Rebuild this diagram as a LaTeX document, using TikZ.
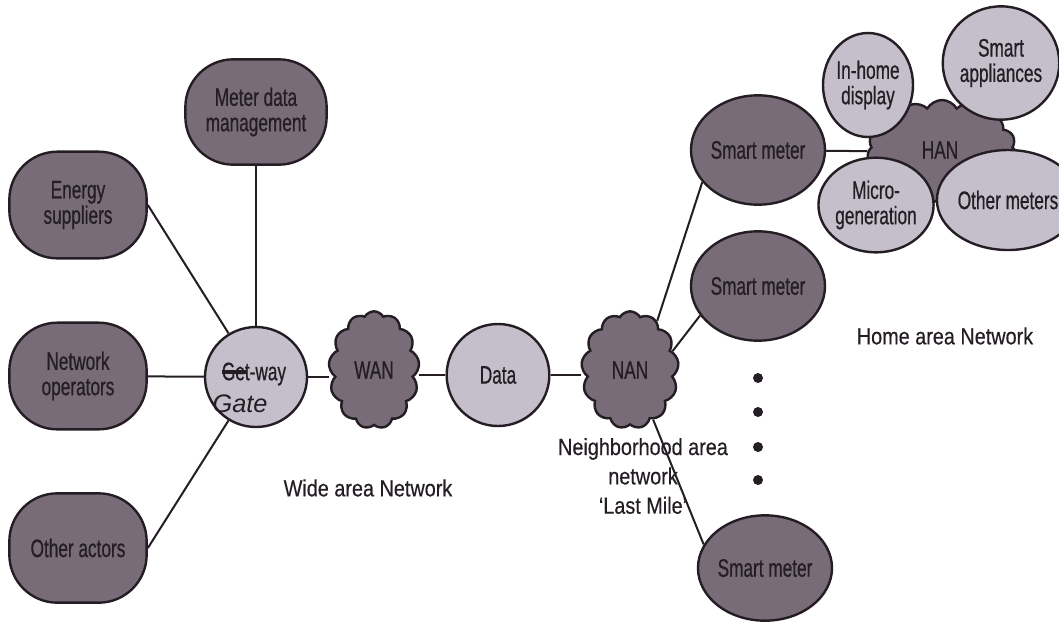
\documentclass[tikz,border=0pt]{standalone}
\usepackage{fontspec}
\setmainfont{Liberation Sans}
\newfontfamily\nodefont[FakeStretch=0.68,FakeBold=0.6]{Liberation Sans}
\newfontfamily\labfont[FakeStretch=0.85,FakeBold=0.4]{Liberation Sans}
\usetikzlibrary{shapes.symbols,shapes.geometric}
\definecolor{darkfill}{RGB}{120,108,120}
\definecolor{lightfill}{RGB}{196,191,203}
\definecolor{ink}{RGB}{36,30,36}
\begin{document}
\begin{tikzpicture}[x=0.75pt,y=-0.75pt,
  base/.style={draw=ink,line width=1.8pt,text=ink,font=\nodefont\fontsize{19}{19}\selectfont,align=center,inner sep=0pt},
  actor/.style={base,fill=darkfill,rectangle,rounded corners=36pt,minimum width=103pt,minimum height=80pt},
  dcirc/.style={base,fill=darkfill,ellipse,minimum width=85pt,minimum height=82pt},
  lcirc/.style={base,fill=lightfill,ellipse},
  cloudnode/.style={base,fill=darkfill,cloud,cloud puffs=13,cloud puff arc=120,cloud ignores aspect},
  link/.style={draw=ink,line width=1.5pt},
  dotst/.style={circle,fill=ink,minimum size=7.5pt,inner sep=0pt},
  lab/.style={text=ink,font=\labfont\fontsize{17.5}{22}\selectfont,align=center}]
\useasboundingbox (0,0) rectangle (1059,626);
\fill[white] (0,0) rectangle (1059,626);

% left actors
\node[actor,minimum width=106pt,minimum height=79pt] (mdm) at (256,112) {Meter data\\management};
\node[actor] (es) at (78,205) {Energy\\suppliers};
\node[actor] (no) at (78,376) {Network\\operators};
\node[actor,minimum height=82pt] (oa) at (78,548) {Other actors};

% chain
\node[lcirc,minimum width=76.5pt,minimum height=75pt] (gw) at (256,377) {};
\node[text=ink,font=\nodefont\fontsize{19}{19}\selectfont] (gwtxt) at (254,374) {Get-way};
\node[cloudnode,minimum width=68pt,minimum height=88pt] (wan) at (374,370) {WAN};
\node[lcirc,minimum width=77pt,minimum height=76.5pt] (data) at (498,375) {Data};
\node[cloudnode,minimum width=73pt,minimum height=88pt] (nan) at (630,370) {NAN};

% smart meters
\node[dcirc] (sm1) at (758,150) {Smart meter};
\node[dcirc] (sm2) at (758,286) {Smart meter};
\node[dcirc,minimum height=79pt] (sm3) at (765,568) {Smart meter};

% HAN
\node[cloudnode,minimum width=112pt,minimum height=78pt,cloud puffs=15] (han) at (942,152) {};
\draw[link] (sm1) -- (han);
\node[lcirc,minimum width=67.5pt,minimum height=78pt] (ihd) at (868,85) {In-home\\display};
\node[lcirc,minimum width=70pt,minimum height=85pt] (sa) at (1001,63) {Smart\\appliances};
\node[lcirc,minimum width=70pt,minimum height=71pt] (mg) at (876,205) {Micro-\\generation};
\node[lcirc,minimum width=77pt,minimum height=75pt] (om) at (1008,200) {Other meters};
\node[text=ink,font=\nodefont\fontsize{19}{19}\selectfont] (hantxt) at (940,150) {HAN};

% connectors
\draw[link] (mdm) -- (gw);
\draw[link] (es.east) -- (gw);
\draw[link] (no) -- (gw);
\draw[link] (oa.east) -- (gw);
\draw[link] (gw) -- (wan.west |- gw.center);
\draw[link] (wan.east |- data.center) -- (data);
\draw[link] (data) -- (nan.west |- data.center);
\draw[link] (nan.61) -- (sm1.210);
\draw[link] (nan.24) -- (sm2.207);
\draw[link] (nan.295) -- (sm3.159);

% gateway correction
\draw[ink,line width=3.5pt] (222,372) -- (246,372);
\node[text=ink,font=\itshape\fontsize{19}{19}\selectfont] (gate) at (240,404) {Gate};

% dots
\node[dotst] (d1) at (758,378) {};
\node[dotst] (d2) at (758,412) {};
\node[dotst] (d3) at (758,447) {};
\node[dotst] (d4) at (758,480) {};

% labels
\node[lab] (wanlab) at (368,488) {Wide area Network};
\node[lab] (nanlab) at (643,476) {Neighborhood area\\network\\‘Last Mile’};
\node[lab] (hanlab) at (945,336) {Home area Network};
\end{tikzpicture}
\end{document}
